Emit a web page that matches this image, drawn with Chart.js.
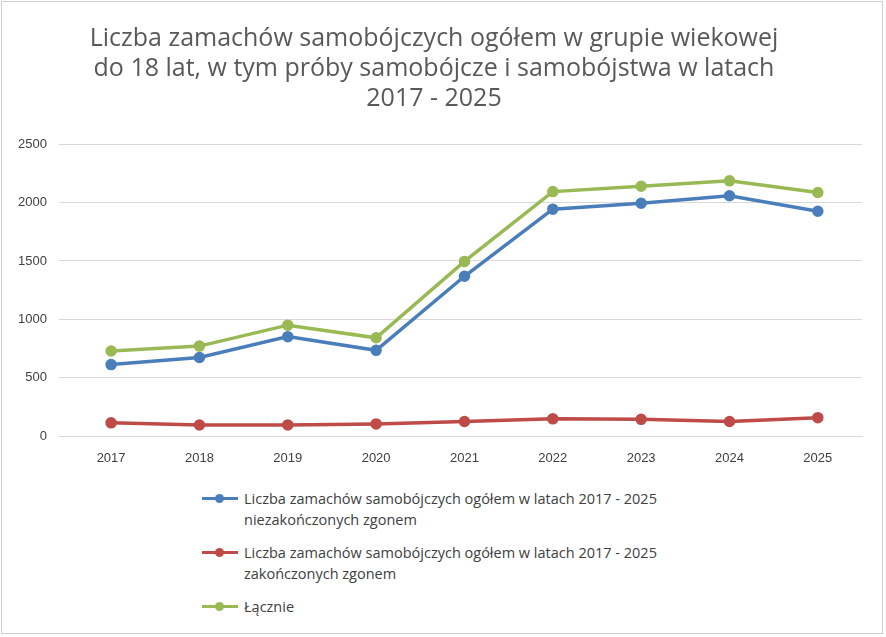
<!DOCTYPE html>
<html><head><meta charset="utf-8">
<script src="https://cdn.jsdelivr.net/npm/chart.js@4"></script>
<style>
body{margin:0;background:#fff;font-family:"Open Sans","Liberation Sans",Arial,sans-serif}
#wrap{position:absolute;left:1px;top:1px;width:882px;height:633px;border:1px solid #d0d0d0;box-sizing:border-box}
#c{position:absolute;left:0;top:0}
#leg{position:absolute;left:200px;top:486px;font-size:14.5px;color:#404040;line-height:21px}
.it{position:relative;padding-left:42px;margin-bottom:12px}
.it span{position:absolute;left:0;top:9px;width:36px;height:3px}
.it i{position:absolute;left:13px;top:6px;width:9px;height:9px;border-radius:50%}
</style></head><body>
<div id="wrap"><canvas id="c" width="880" height="470"></canvas>
<div id="leg"></div></div>
<script>
const years=["2017","2018","2019","2020","2021","2022","2023","2024","2025"];
const unfinished=[614,675,853,736,1369,1943,1993,2058,1925];
const deaths=[116,97,98,107,127,150,146,127,160];
const total=[730,772,951,843,1496,2093,2139,2185,2085];
const names=["Liczba zamachów samobójczych ogółem w latach 2017 - 2025<br>niezakończonych zgonem","Liczba zamachów samobójczych ogółem w latach 2017 - 2025<br>zakończonych zgonem","Łącznie"];
const cols=["#4a7ebb","#be4b48","#98b954"];
const sets=[unfinished,deaths,total].map((d,i)=>({label:names[i].replace('<br>',' '),data:d,borderColor:cols[i],backgroundColor:cols[i],borderWidth:3.5,pointRadius:4,pointHoverRadius:4,tension:0}));
new Chart(document.getElementById('c'),{type:'line',data:{labels:years,datasets:sets},
options:{responsive:false,animation:false,layout:{padding:{left:4,right:20,top:18,bottom:0}},
plugins:{legend:{display:false},title:{display:true,text:["Liczba zamachów samobójczych ogółem w grupie wiekowej","do 18 lat, w tym próby samobójcze i samobójstwa w latach","2017 - 2025"],color:"#595959",font:{size:25,family:'"Open Sans","Liberation Sans",Arial',weight:'normal'},lineHeight:1.25,padding:{top:4,bottom:30}}},
scales:{x:{offset:true,grid:{display:false},border:{color:"#d9d9d9"},ticks:{color:"#404040",font:{size:13},padding:6}},
y:{min:0,max:2500,ticks:{stepSize:500,color:"#404040",font:{size:13},padding:12,callback:v=>String(v)},grid:{color:"#d9d9d9"},border:{display:false}}}}});
document.getElementById('leg').innerHTML=names.map((n,i)=>`<div class="it"><span style="background:${cols[i]}"></span><i style="background:${cols[i]}"></i>${n}</div>`).join('');
</script></body></html>
